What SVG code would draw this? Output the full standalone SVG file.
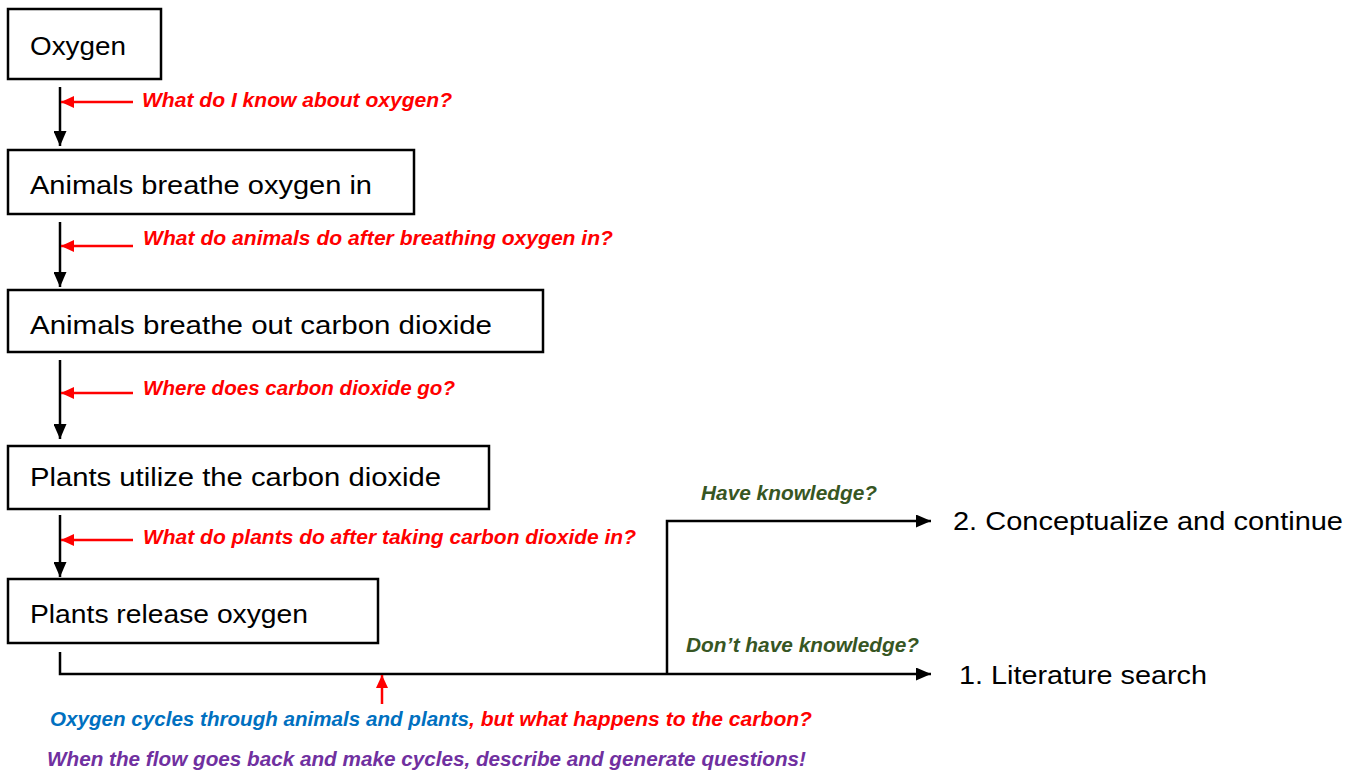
<svg xmlns="http://www.w3.org/2000/svg" width="1359" height="772" viewBox="0 0 1359 772">
<style>
.box{fill:#fff;stroke:#000;stroke-width:2.5}
.t{font-family:"Liberation Sans",Arial,sans-serif;font-size:26px;fill:#000}
.q{font-family:"Liberation Sans",Arial,sans-serif;font-size:19.5px;font-weight:bold;font-style:italic}
.red{fill:#ff0000}
.grn{fill:#375623}
.blu{fill:#0070c0}
.pur{fill:#7030a0}
.blk{stroke:#000;stroke-width:2.5;fill:none}
.rl{stroke:#ff0000;stroke-width:2.5;fill:none}
</style>
<defs>
<marker id="ah" markerWidth="15" markerHeight="13" refX="15" refY="6.5" orient="auto" markerUnits="userSpaceOnUse" viewBox="0 0 15 13">
<path d="M0,0 L15,6.5 L0,13 z" fill="#000"/>
</marker>
<marker id="rh" markerWidth="13" markerHeight="12" refX="13" refY="6" orient="auto" markerUnits="userSpaceOnUse" viewBox="0 0 13 12">
<path d="M0,0 L13,6 L0,12 z" fill="#ff0000"/>
</marker>
</defs>
<rect width="1359" height="772" fill="#fff"/>
<g id="connectors">
<line class="blk" x1="60" y1="87" x2="60" y2="146" marker-end="url(#ah)"/>
<line class="blk" x1="60" y1="222" x2="60" y2="287" marker-end="url(#ah)"/>
<line class="blk" x1="60" y1="360" x2="60" y2="439" marker-end="url(#ah)"/>
<line class="blk" x1="60" y1="515" x2="60" y2="577" marker-end="url(#ah)"/>
<polyline class="blk" points="60,652 60,674 931,674" marker-end="url(#ah)"/>
<polyline class="blk" points="667,674 667,521 931,521" marker-end="url(#ah)"/>
<line class="rl" x1="133" y1="102" x2="61" y2="102" marker-end="url(#rh)"/>
<line class="rl" x1="133" y1="246" x2="61" y2="246" marker-end="url(#rh)"/>
<line class="rl" x1="133" y1="393" x2="61" y2="393" marker-end="url(#rh)"/>
<line class="rl" x1="133" y1="540" x2="61" y2="540" marker-end="url(#rh)"/>
<line class="rl" x1="382" y1="704" x2="382" y2="675" marker-end="url(#rh)"/>
</g>
<g id="n-oxygen"><rect class="box" x="8" y="9" width="153" height="70"/><text class="t" x="30" y="55" textLength="96" lengthAdjust="spacingAndGlyphs">Oxygen</text></g>
<g id="n-breathe-in"><rect class="box" x="8" y="150" width="406" height="64"/><text class="t" x="30" y="194" textLength="342" lengthAdjust="spacingAndGlyphs">Animals breathe oxygen in</text></g>
<g id="n-breathe-out"><rect class="box" x="8" y="290" width="535" height="62"/><text class="t" x="30" y="334" textLength="462" lengthAdjust="spacingAndGlyphs">Animals breathe out carbon dioxide</text></g>
<g id="n-utilize"><rect class="box" x="8" y="446" width="481" height="63"/><text class="t" x="30" y="486" textLength="411" lengthAdjust="spacingAndGlyphs">Plants utilize the carbon dioxide</text></g>
<g id="n-release"><rect class="box" x="8" y="579" width="370" height="64"/><text class="t" x="30" y="623" textLength="278" lengthAdjust="spacingAndGlyphs">Plants release oxygen</text></g>
<g id="n-conceptualize"><text class="t" x="953" y="530" textLength="390" lengthAdjust="spacingAndGlyphs">2. Conceptualize and continue</text></g>
<g id="n-literature"><text class="t" x="959" y="684" textLength="248" lengthAdjust="spacingAndGlyphs">1. Literature search</text></g>
<g id="labels">
<text class="q red" x="142" y="107" textLength="310" lengthAdjust="spacingAndGlyphs">What do I know about oxygen?</text>
<text class="q red" x="143" y="245" textLength="470" lengthAdjust="spacingAndGlyphs">What do animals do after breathing oxygen in?</text>
<text class="q red" x="143" y="395" textLength="312" lengthAdjust="spacingAndGlyphs">Where does carbon dioxide go?</text>
<text class="q red" x="143" y="544" textLength="493" lengthAdjust="spacingAndGlyphs">What do plants do after taking carbon dioxide in?</text>
<text class="q grn" x="701" y="500" textLength="176" lengthAdjust="spacingAndGlyphs">Have knowledge?</text>
<text class="q grn" x="686" y="652" textLength="233" lengthAdjust="spacingAndGlyphs">Don’t have knowledge?</text>
<text class="q blu" x="50" y="726" textLength="419" lengthAdjust="spacingAndGlyphs">Oxygen cycles through animals and plants</text>
<text class="q red" x="469" y="726" textLength="343" lengthAdjust="spacingAndGlyphs">, but what happens to the carbon?</text>
<text class="q pur" x="47" y="766" textLength="759" lengthAdjust="spacingAndGlyphs">When the flow goes back and make cycles, describe and generate questions!</text>
</g>
</svg>
